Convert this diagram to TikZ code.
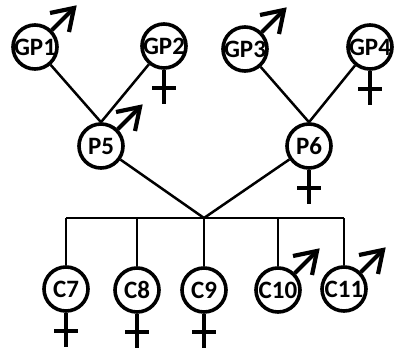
\documentclass[tikz,border=0pt]{standalone}
\usepackage{fontspec}
\setmainfont{Carlito}
\usetikzlibrary{calc}
\newcommand\malesign[1]{%
  \draw[sym,line cap=butt] (#1.45) -- ($(#1)+(39,-39)$);
  \draw[sym,line join=miter] ($(#1)+(39,-39)+(-24,5)$) -- ($(#1)+(39,-39)$) -- ($(#1)+(39,-39)+(-5,24)$);}
\newcommand\femalesign[1]{%
  \draw[sym] (#1.south) -- ++(0,34);
  \draw[sym] ($(#1.south)+(-12,18)$) -- ++(24,0);}
\begin{document}
\begin{tikzpicture}[x=1pt,y=-1pt,
  person/.style={circle,draw,line width=3.6pt,minimum size=44pt,inner sep=-1pt,
    font=\bfseries\fontsize{25}{25}\selectfont},
  link/.style={line width=2.5pt},
  sym/.style={line width=4.2pt}]
\useasboundingbox (0,0) rectangle (395,350);
\fill[white] (0,0) rectangle (395,350);
\node[person] (GP1) at (35,47) {GP1};
\node[person] (GP2) at (164,46) {GP2};
\node[person] (GP3) at (245,49) {GP3};
\node[person] (GP4) at (370,47) {GP4};
\node[person] (P5) at (101,146) {P5};
\node[person] (P6) at (309,146) {P6};
\node[person] (C7) at (66,289) {C7};
\node[person] (C8) at (137,290) {C8};
\node[person] (C9) at (204,290) {C9};
\node[person] (C10) at (278,290) {C10};
\node[person] (C11) at (344,289) {C11};
\coordinate (J) at (204,218);
\draw[link] (GP1) -- (P5.north);
\draw[link] (GP2) -- (P5.north);
\draw[link] (GP3) -- (P6.north);
\draw[link] (GP4) -- (P6.north);
\draw[link] (P5) -- (J);
\draw[link] (P6) -- (J);
\draw[link] (C7.north |- J) -- (C11.north |- J);
\foreach \c in {C7,C8,C9,C10,C11} \draw[link] (\c.north |- J) -- (\c.north);
\malesign{GP1}
\malesign{GP3}
\malesign{P5}
\malesign{C10}
\malesign{C11}
\femalesign{GP2}
\femalesign{GP4}
\femalesign{P6}
\femalesign{C7}
\femalesign{C8}
\femalesign{C9}
\end{tikzpicture}
\end{document}
